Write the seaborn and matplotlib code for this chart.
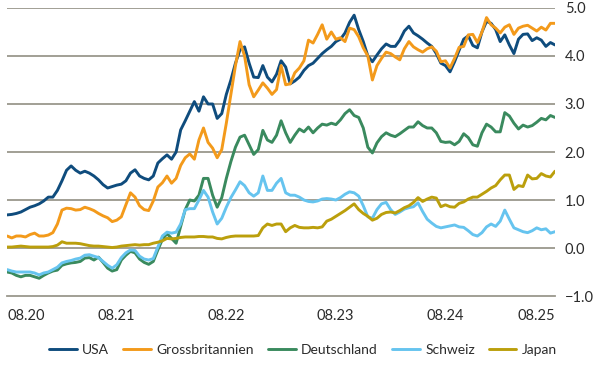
import matplotlib
matplotlib.use("Agg")
import matplotlib.pyplot as plt
import seaborn as sns
import pandas as pd

# 10y yields at roughly half-month steps (08.2020 - 08.2025)
usa = [0.69, 0.70, 0.72, 0.75, 0.80, 0.85, 0.88, 0.92, 0.98, 1.06, 1.06, 1.20, 1.40, 1.62, 1.71, 1.62,
       1.56, 1.60, 1.56, 1.50, 1.42, 1.32, 1.25, 1.28, 1.31, 1.33, 1.40, 1.56, 1.63, 1.50, 1.45, 1.42,
       1.50, 1.77, 1.86, 1.94, 1.85, 2.00, 2.46, 2.65, 2.85, 3.05, 2.85, 3.15, 3.00, 3.00, 2.70, 2.80,
       3.20, 3.50, 3.85, 4.13, 4.19, 3.85, 3.56, 3.55, 3.80, 3.56, 3.46, 3.62, 3.90, 3.77, 3.42, 3.48,
       3.56, 3.70, 3.80, 3.85, 3.95, 4.05, 4.13, 4.20, 4.30, 4.35, 4.48, 4.70, 4.85, 4.55, 4.30, 4.00,
       3.88, 4.02, 4.15, 4.25, 4.20, 4.20, 4.33, 4.52, 4.62, 4.48, 4.42, 4.35, 4.27, 4.20, 4.05, 3.85,
       3.80, 3.67, 3.88, 4.12, 4.35, 4.42, 4.22, 4.17, 4.50, 4.72, 4.68, 4.55, 4.30, 4.44, 4.23, 4.05,
       4.35, 4.45, 4.46, 4.32, 4.38, 4.33, 4.20, 4.28, 4.23]
uk = [0.25, 0.21, 0.25, 0.25, 0.23, 0.28, 0.31, 0.25, 0.25, 0.27, 0.32, 0.50, 0.79, 0.83, 0.82, 0.79,
      0.80, 0.85, 0.82, 0.78, 0.72, 0.67, 0.63, 0.55, 0.58, 0.65, 0.90, 1.15, 1.06, 0.88, 0.80, 0.78,
      0.98, 1.27, 1.36, 1.50, 1.35, 1.45, 1.72, 1.88, 1.96, 1.85, 2.25, 2.50, 2.20, 2.08, 1.88, 2.05,
      2.60, 3.20, 3.80, 4.30, 4.00, 3.40, 3.15, 3.29, 3.44, 3.33, 3.20, 3.30, 3.80, 3.40, 3.42, 3.65,
      3.75, 3.90, 4.33, 4.27, 4.45, 4.65, 4.35, 4.50, 4.35, 4.38, 4.30, 4.58, 4.55, 4.40, 4.17, 4.00,
      3.50, 3.80, 3.95, 4.08, 4.05, 3.98, 3.92, 4.15, 4.30, 4.19, 4.13, 4.08, 4.15, 4.19, 4.10, 3.88,
      3.90, 3.75, 3.95, 4.18, 4.20, 4.44, 4.45, 4.28, 4.50, 4.80, 4.65, 4.58, 4.48, 4.60, 4.65, 4.45,
      4.58, 4.62, 4.64, 4.58, 4.52, 4.60, 4.54, 4.68, 4.68]
germany = [-0.50, -0.52, -0.57, -0.60, -0.57, -0.57, -0.60, -0.63, -0.57, -0.52, -0.48, -0.46, -0.36, -0.33,
           -0.31, -0.30, -0.28, -0.21, -0.20, -0.25, -0.19, -0.30, -0.42, -0.48, -0.45, -0.25, -0.15, -0.07,
           -0.10, -0.23, -0.30, -0.34, -0.28, -0.04, 0.18, 0.30, 0.20, 0.10, 0.45, 0.80, 1.00, 0.98, 1.10,
           1.45, 1.45, 1.10, 0.85, 1.05, 1.45, 1.80, 2.10, 2.31, 2.35, 2.15, 1.95, 2.05, 2.45, 2.25, 2.20,
           2.35, 2.65, 2.40, 2.20, 2.35, 2.48, 2.42, 2.52, 2.40, 2.50, 2.58, 2.56, 2.60, 2.57, 2.67, 2.80,
           2.88, 2.76, 2.72, 2.50, 2.10, 1.98, 2.19, 2.32, 2.40, 2.35, 2.32, 2.38, 2.45, 2.52, 2.52, 2.63,
           2.55, 2.50, 2.50, 2.40, 2.22, 2.20, 2.21, 2.15, 2.22, 2.38, 2.30, 2.15, 2.12, 2.40, 2.58, 2.52,
           2.42, 2.42, 2.82, 2.75, 2.60, 2.48, 2.56, 2.52, 2.55, 2.62, 2.70, 2.67, 2.76, 2.72]
swiss = [-0.45, -0.48, -0.50, -0.50, -0.50, -0.50, -0.52, -0.56, -0.52, -0.50, -0.45, -0.40, -0.31, -0.28,
         -0.26, -0.23, -0.21, -0.15, -0.14, -0.17, -0.20, -0.28, -0.36, -0.42, -0.35, -0.20, -0.10, -0.04,
         -0.05, -0.17, -0.23, -0.25, -0.22, 0.02, 0.25, 0.33, 0.31, 0.33, 0.50, 0.80, 0.82, 0.82, 1.00,
         1.20, 1.06, 0.75, 0.50, 0.62, 0.85, 1.05, 1.21, 1.38, 1.30, 1.15, 1.08, 1.15, 1.50, 1.20, 1.20,
         1.35, 1.45, 1.15, 1.10, 1.10, 1.06, 1.00, 0.97, 0.96, 0.98, 1.02, 1.03, 1.02, 1.00, 1.05, 1.12,
         1.17, 1.15, 1.08, 0.88, 0.65, 0.62, 0.80, 0.92, 0.95, 0.80, 0.70, 0.75, 0.81, 0.84, 0.86, 0.94,
         0.76, 0.60, 0.52, 0.45, 0.42, 0.44, 0.46, 0.48, 0.44, 0.43, 0.36, 0.28, 0.25, 0.32, 0.44, 0.50,
         0.45, 0.56, 0.79, 0.60, 0.42, 0.38, 0.34, 0.32, 0.36, 0.42, 0.38, 0.40, 0.31, 0.34]
japan = [0.02, 0.02, 0.03, 0.04, 0.03, 0.02, 0.02, 0.02, 0.02, 0.02, 0.03, 0.06, 0.13, 0.10, 0.10, 0.10,
         0.09, 0.07, 0.05, 0.04, 0.04, 0.03, 0.02, 0.01, 0.02, 0.04, 0.05, 0.06, 0.07, 0.06, 0.07, 0.07,
         0.10, 0.12, 0.15, 0.20, 0.19, 0.20, 0.22, 0.23, 0.23, 0.23, 0.24, 0.24, 0.23, 0.23, 0.20, 0.19,
         0.22, 0.24, 0.25, 0.25, 0.25, 0.25, 0.25, 0.26, 0.42, 0.50, 0.47, 0.50, 0.50, 0.34, 0.42, 0.47,
         0.43, 0.42, 0.42, 0.43, 0.42, 0.44, 0.56, 0.60, 0.66, 0.72, 0.78, 0.85, 0.92, 0.80, 0.72, 0.66,
         0.58, 0.62, 0.70, 0.74, 0.75, 0.73, 0.78, 0.84, 0.88, 0.95, 1.05, 0.97, 1.02, 1.06, 1.04, 0.86,
         0.90, 0.86, 0.85, 0.93, 0.96, 1.02, 1.06, 1.06, 1.12, 1.18, 1.25, 1.30, 1.42, 1.52, 1.52, 1.22,
         1.30, 1.28, 1.52, 1.44, 1.45, 1.55, 1.50, 1.48, 1.60]

countries = ["USA", "Grossbritannien", "Deutschland", "Schweiz", "Japan"]
colors = ["#0f4c7d", "#f39a1b", "#3a8a5e", "#66c4ef", "#bb9f0c"]
year_labels = ["08.20", "08.21", "08.22", "08.23", "08.24", "08.25"]

start, end = pd.Timestamp("2020-08-01"), pd.Timestamp("2025-08-01")
frames = []
for name, vals in zip(countries, [usa, uk, germany, swiss, japan]):
    frames.append(pd.DataFrame({"date": pd.date_range(start, end, periods=len(vals)),
                                "yield": vals, "land": name}))
df = pd.concat(frames, ignore_index=True)

sns.set_style("white")
plt.rcParams["font.family"] = ["Lato", "DejaVu Sans"]
grid_col = "#9a978c"
txt_col = "#2b2b2b"

fig = plt.figure(figsize=(6, 3.8), dpi=100)
ax = fig.add_axes([0.012, 0.221, 0.913, 0.758])

for yv in range(0, 6):
    ax.axhline(yv, color=grid_col, lw=1.3, zorder=0)

sns.lineplot(data=df, x="date", y="yield", hue="land", hue_order=countries,
             palette=colors, linewidth=2.1, ax=ax, legend=False)

ax.set_xlim(start, end)
ax.set_ylim(-1, 5)
ax.set_xlabel("")
ax.set_ylabel("")

ticks = [pd.Timestamp(f"20{y[-2:]}-08-01") for y in year_labels]
ax.set_xticks(ticks)
ax.set_xticklabels(year_labels)
ax.tick_params(axis="x", direction="out", length=5, width=1.3, color=grid_col,
               labelsize=10.5, labelcolor=txt_col, pad=4)
xl = ax.get_xticklabels()
xl[0].set_ha("left")
xl[-1].set_ha("right")

ax.yaxis.tick_right()
yt = [-1, 0, 1, 2, 3, 4, 5]
ax.set_yticks(yt)
ax.set_yticklabels([f"{v:.1f}".replace("-", "\u2212") for v in yt])
ax.tick_params(axis="y", length=0, labelsize=10.5, labelcolor=txt_col, pad=7)

for side in ["top", "left", "right"]:
    ax.spines[side].set_visible(False)
ax.spines["bottom"].set_color(grid_col)
ax.spines["bottom"].set_linewidth(1.3)

handles = [plt.Line2D([], [], color=c, lw=2.1) for c in colors]
fig.legend(handles, countries, loc="center", bbox_to_anchor=(0.505, 0.079), ncol=5,
           frameon=False, fontsize=10, handlelength=2.0, handletextpad=0.4,
           columnspacing=1.0, labelcolor=txt_col)

fig.savefig("out.png", dpi=100)
